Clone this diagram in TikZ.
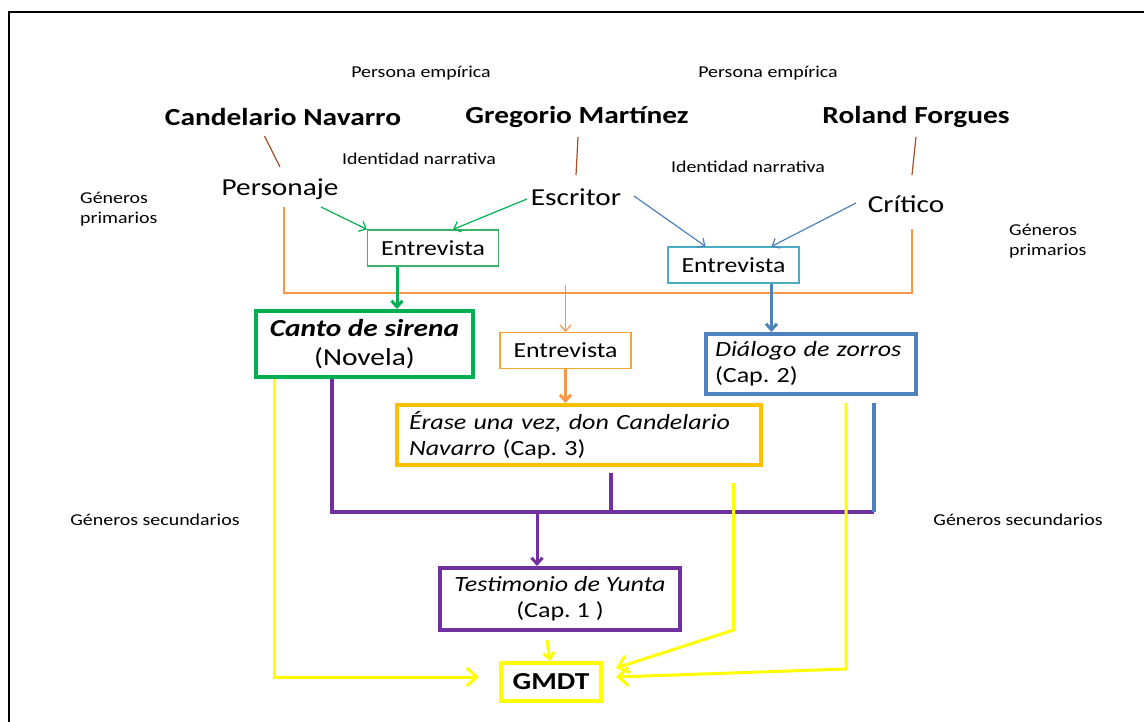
\documentclass[tikz,border=0pt]{standalone}
\usepackage{fontspec}
\setmainfont{Carlito}[FakeStretch=1.2]
\usetikzlibrary{arrows.meta}
\definecolor{verde}{HTML}{00B050}
\definecolor{verdeclaro}{HTML}{3DB36A}
\definecolor{azul}{HTML}{4F81BD}
\definecolor{aqua}{HTML}{4BACC6}
\definecolor{naranja}{HTML}{F79646}
\definecolor{ambar}{HTML}{FFC000}
\definecolor{morado}{HTML}{7030A0}
\definecolor{amarillo}{HTML}{FFFF00}
\definecolor{cafe}{HTML}{A0522D}
\frenchspacing
\begin{document}
\begin{tikzpicture}[x=1pt,y=-1pt,
    every node/.style={inner sep=0pt},
    chico/.style={font=\fontsize{16.6}{20}\selectfont},
    persona/.style={font=\fontsize{24.5}{28}\selectfont\bfseries},
    rol/.style={font=\fontsize{24.4}{28}\selectfont},
    entbox/.style={draw,line width=1.2pt,minimum width=131pt,minimum height=36pt,font=\fontsize{21.5}{24}\selectfont},
    obra/.style={draw,line width=4pt,font=\fontsize{21.7}{26}\selectfont},
    fina/.style={line width=1.2pt},
    gruesa/.style={line width=4pt},
    punta/.style={-{Straight Barb[length=6pt,width=11pt]}},
    puntag/.style={-{Straight Barb[length=10pt,width=18pt]}}]
    \useasboundingbox (0,0) rectangle (1144,722);
    \draw[line width=2pt] (9,722) -- (9,12) -- (1144,12);

    \node[chico] (pe1) at (421,73) {Persona empírica};
    \node[chico] (pe2) at (768,73) {Persona empírica};
    \node[persona] (cn) at (283,117) {Candelario Navarro};
    \node[persona] (gm) at (577,117) {Gregorio Martínez};
    \node[persona] (rf) at (916,117) {Roland Forgues};
    \node[chico] (in1) at (419,159) {Identidad narrativa};
    \node[chico] (in2) at (748,167) {Identidad narrativa};
    \node[rol] (per) at (280,189) {Personaje};
    \node[rol] (esc) at (576,197) {Escritor};
    \node[rol] (cri) at (906,204) {Crítico};
    \node[chico,anchor=west,align=left] (gp1) at (80,209) {Géneros\\primarios};
    \node[chico,anchor=west,align=left] (gp2) at (1009,241) {Géneros\\primarios};
    \node[chico] (gs1) at (155,520) {Géneros secundarios};
    \node[chico] (gs2) at (1018,520) {Géneros secundarios};

    \node[entbox,draw=verdeclaro] (ent1) at (433,248) {Entrevista};
    \node[entbox,draw=aqua] (ent2) at (733.5,265) {Entrevista};
    \node[entbox,draw=naranja!70!ambar] (ent3) at (565.5,350.5) {Entrevista};
    \node[obra,draw=verde,minimum width=217pt,minimum height=66pt,align=center,font=\fontsize{24.5}{29}\selectfont] (canto) at (364.5,344) {\textbf{\textit{Canto de sirena}}\\(Novela)};
    \node[obra,draw=azul,text width=192pt,inner xsep=8.75pt,minimum height=60pt,align=left] (dial) at (811,364) {\textit{Diálogo de zorros}\\(Cap. 2)};
    \node[obra,draw=ambar,text width=340pt,inner xsep=12pt,minimum height=60pt,align=left] (erase) at (579,435) {\textit{Érase una vez, don Candelario}\\\textit{Navarro} (Cap. 3)};
    \node[obra,draw=morado,minimum width=240pt,minimum height=62pt,align=center] (test) at (560,599) {\textit{Testimonio de Yunta}\\(Cap. 1 )};
    \node[obra,draw=amarillo,minimum width=100pt,minimum height=38pt,font=\fontsize{24.4}{28}\selectfont\bfseries] (gmdt) at (551,682) {GMDT};

    \draw[cafe,fina] ([xshift=-18.5pt,yshift=-19pt]cn.center) -- ([yshift=22pt]per.center);
    \draw[cafe,fina] ([xshift=1pt,yshift=-20pt]gm.center) -- ([yshift=22pt]esc.center);
    \draw[cafe,fina] ([yshift=-20pt]rf.center) -- ([xshift=6pt,yshift=29pt]cri.center);

    \draw[verde,fina,punta] ([xshift=41pt,yshift=-18pt]per.center) -- (ent1.north west);
    \draw[verde,fina,punta] ([xshift=-49pt,yshift=-2pt]esc.center) -- ([xshift=20pt]ent1.north);
    \draw[azul,fina,punta] ([xshift=58pt,yshift=1pt]esc.center) -- ([xshift=-28pt]ent2.north);
    \draw[azul,fina,punta] ([xshift=-50pt,yshift=1pt]cri.center) -- ([xshift=38pt]ent2.north);

    \coordinate (o-l) at (284,207);
    \coordinate (o-bl) at (284,293);
    \coordinate (o-r) at (912,229);
    \coordinate (o-t) at (565,285);
    \draw[naranja,fina] (o-l) -- (o-bl) -| (o-r);
    \draw[naranja,fina,punta] (ent3.north |- o-t) -- (ent3.north);
    \draw[naranja,line width=3pt,punta] (ent3.south) -- (ent3.south |- erase.north);

    \coordinate (g1) at ([xshift=-36pt]ent1.south);
    \draw[verde,line width=3pt,punta] (g1) -- (g1 |- canto.north);
    \coordinate (b1) at ([xshift=38pt]ent2.south);
    \draw[azul,line width=3pt,punta] (b1) -- (b1 |- dial.north);

    \coordinate (pur-r) at (874,512);
    \coordinate (pur-m) at ([xshift=-23pt]test.north);
    \draw[morado,gruesa] ([xshift=-33pt]canto.south) |- (pur-r);
    \draw[morado,gruesa] ([xshift=32pt,yshift=-6pt]erase.south) -- ++(0,39);
    \draw[morado,line width=3pt,punta] (pur-m |- pur-r) -- (pur-m);
    \draw[azul,gruesa] ([xshift=63pt,yshift=-7pt]dial.south) -- (pur-r);

    \coordinate (y2b) at (733.6,630);
    \coordinate (y3b) at (846,669);
    \draw[amarillo,line width=3pt,puntag] ([xshift=-90pt]canto.south) |- ([xshift=-20pt,yshift=5pt]gmdt.west);
    \draw[amarillo,line width=3pt,puntag] ([xshift=154.6pt,yshift=-16pt]erase.south) -- (y2b) -- ([xshift=13pt,yshift=14pt]gmdt.east);
    \draw[amarillo,line width=3pt,puntag] ([xshift=35pt,yshift=-7pt]dial.south) -- (y3b) -- ([xshift=13pt,yshift=5pt]gmdt.east);
    \draw[amarillo,line width=3pt,punta] ([xshift=-13pt,yshift=-8pt]test.south) -- ([xshift=-1pt]gmdt.north);
\end{tikzpicture}
\end{document}
